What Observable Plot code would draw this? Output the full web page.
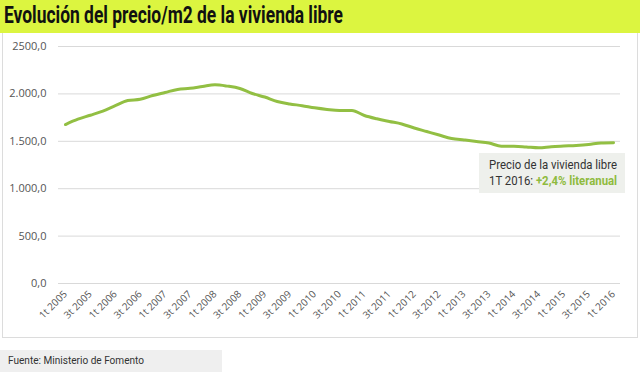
<!DOCTYPE html>
<html><head><meta charset="utf-8">
<script src="https://cdn.jsdelivr.net/npm/d3@7"></script>
<script src="https://cdn.jsdelivr.net/npm/@observablehq/plot@0.6"></script>
<style>
body{margin:0;background:#fff;}
#wrap{position:relative;width:640px;height:374px;overflow:hidden;font-family:"Open Sans",sans-serif;}
#title{position:absolute;left:0;top:0;width:640px;height:33px;background:#dcf540;}
#titleText{position:absolute;left:4px;top:2px;font-family:Roboto,sans-serif;font-weight:bold;font-size:23px;color:#111;white-space:nowrap;transform-origin:0 0;}
#panel{position:absolute;left:2px;top:33px;width:634px;height:304px;border:1px solid #dcdcdc;border-top:none;}
#chart{position:absolute;left:0;top:34px;}
#note{position:absolute;left:479px;top:153px;width:146px;height:40px;background:#eef0ec;}
#noteText{position:absolute;left:10px;top:4px;font-family:Roboto,sans-serif;font-size:13px;color:#333;line-height:16px;white-space:nowrap;transform-origin:0 0;}
#noteText b{color:#8fbb3e;}
#foot{position:absolute;left:0;top:350px;width:222px;height:22px;background:#efefef;}
#footText{position:absolute;left:8px;top:0;font-family:Roboto,sans-serif;font-size:11px;color:#333;line-height:22px;white-space:nowrap;transform-origin:0 0;}
</style></head>
<body>
<div id="wrap">
  <div id="title"><span id="titleText">Evolución del precio/m2 de la vivienda libre</span></div>
  <div id="panel"></div>
  <div id="chart"></div>
  <div id="note"><div id="noteText"><span id="noteL1">Precio de la vivienda libre</span><br>1T 2016: <b>+2,4% literanual</b></div></div>
  <div id="foot"><span id="footText">Fuente: Ministerio de Fomento</span></div>
</div>
<script>
const quarters = [
  "1t 2005","2t 2005","3t 2005","4t 2005",
  "1t 2006","2t 2006","3t 2006","4t 2006",
  "1t 2007","2t 2007","3t 2007","4t 2007",
  "1t 2008","2t 2008","3t 2008","4t 2008",
  "1t 2009","2t 2009","3t 2009","4t 2009",
  "1t 2010","2t 2010","3t 2010","4t 2010",
  "1t 2011","2t 2011","3t 2011","4t 2011",
  "1t 2012","2t 2012","3t 2012","4t 2012",
  "1t 2013","2t 2013","3t 2013","4t 2013",
  "1t 2014","2t 2014","3t 2014","4t 2014",
  "1t 2015","2t 2015","3t 2015","4t 2015",
  "1t 2016"
];
const precio = [
  1677,1733,1775,1819,
  1876,1930,1943,1983,
  2015,2047,2059,2078,
  2096,2082,2057,2004,
  1967,1920,1894,1876,
  1853,1836,1825,1825,
  1772,1737,1709,1683,
  1640,1603,1566,1530,
  1514,1498,1482,1448,
  1448,1440,1431,1443,
  1450,1456,1466,1482,
  1484
];
const xTicks = ["1t 2005","3t 2005","1t 2006","3t 2006","1t 2007","3t 2007","1t 2008","3t 2008","1t 2009","3t 2009","1t 2010","3t 2010","1t 2011","3t 2011","1t 2012","3t 2012","1t 2013","3t 2013","1t 2014","3t 2014","1t 2015","3t 2015","1t 2016"];
const yTicks = [0,500,1000,1500,2000,2500];
const yTickLabels = ["0,0","500,0","1.000,0","1.500,0","2.000,0","2500,0"];

const data = quarters.map((q,i)=>({q, v: precio[i]}));

const chart = Plot.plot({
  width: 640,
  height: 300,
  marginLeft: 58,
  marginRight: 20,
  marginTop: 12,
  marginBottom: 51,
  style: {fontFamily: "'Open Sans', sans-serif", color: "#555", background: "transparent"},
  x: {type: "point", domain: quarters, padding: 0.56, round: false, label: null},
  y: {domain: [0, 2500], label: null},
  marks: [
    Plot.gridY(yTicks, {stroke: "#d9d9d9", strokeOpacity: 1}),
    Plot.axisY(yTicks, {tickSize: 0, tickPadding: 12, fontSize: 11, fill: "#555", label: null, tickFormat: (d)=>yTickLabels[yTicks.indexOf(d)]}),
    Plot.axisX(xTicks, {tickSize: 0, tickPadding: 9, tickRotate: -45, fontSize: 10, fill: "#555", label: null}),
    Plot.line(data, {x: "q", y: "v", stroke: "#92bf43", strokeWidth: 3, curve: "monotone-x"})
  ]
});
document.getElementById("chart").appendChild(chart);

function fitWidth(el, measureEl, target) {
  const w = measureEl.getBoundingClientRect().width;
  if (w > 0) el.style.transform = `scaleX(${target / w})`;
}
fitWidth(document.getElementById("titleText"), document.getElementById("titleText"), 339);
fitWidth(document.getElementById("noteText"), document.getElementById("noteL1"), 128);
fitWidth(document.getElementById("footText"), document.getElementById("footText"), 136);
</script>
</body></html>
